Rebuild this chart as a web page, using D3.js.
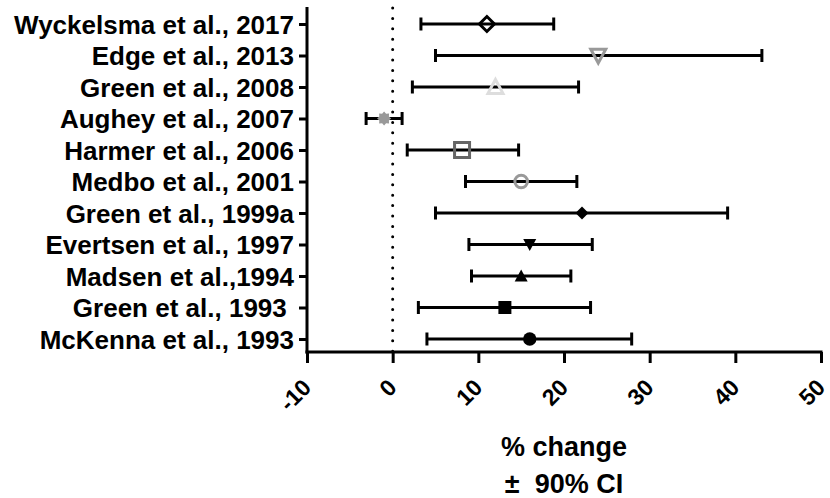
<!DOCTYPE html>
<html lang="en">

<head>
    <meta charset="UTF-8">
    <title>forest plot</title>
    <script src="https://d3js.org/d3.v7.min.js"></script>
    <style>
        body { margin: 0; background: #fff; }
        svg text { font-family: "Liberation Sans", Arial, sans-serif; font-weight: bold; }
    </style>
</head>

<body>
    <svg id="forest" width="830" height="498"></svg>

    <script>
        // studies, top to bottom
        const studies = ["Wyckelsma et al., 2017", "Edge et al., 2013", "Green et al., 2008", "Aughey et al., 2007",
            "Harmer et al., 2006", "Medbo et al., 2001", "Green et al., 1999a", "Evertsen et al., 1997",
            "Madsen et al.,1994", "Green et al., 1993 ", "McKenna et al., 1993"];
        const means = [11, 24, 12, -1, 8.1, 15, 22.1, 16, 15, 13.1, 16];
        const lower = [3.3, 5.0, 2.3, -3.1, 1.7, 8.5, 5.0, 8.9, 9.2, 3.0, 4.0];
        const upper = [18.8, 43.1, 21.7, 1.1, 14.7, 21.5, 39.1, 23.3, 20.8, 23.1, 27.9];
        const shapes = ["diamond", "triDown", "triUp", "star", "square", "circle", "diamond", "triDown", "triUp", "square", "circle"];
        const filled = [false, false, false, true, false, false, true, true, true, true, true];
        const colors = ["#000", "#999", "#ddd", "#999", "#666", "#999", "#000", "#000", "#000", "#000", "#000"];
        const xTicks = [-10, 0, 10, 20, 30, 40, 50];
        const xTickLabels = ["-10", "0", "10", "20", "30", "40", "50"];

        const svg = d3.select("#forest");

        const x = d3.scaleLinear().domain([-10, 50]).range([307, 821]);
        const y = d3.scalePoint().domain(studies).range([24, 339]);
        const axisY = 352;

        // marker outlines as point lists around (0,0)
        function shapePoints(type, filledShape) {
            const r = filledShape ? 6.5 : 7.5;
            if (type === "diamond") return [[0, -r], [r, 0], [0, r], [-r, 0]];
            if (type === "square") return [[-r, -r], [r, -r], [r, r], [-r, r]];
            if (type === "triUp") return [[0, -r], [r, r * 0.85], [-r, r * 0.85]];
            if (type === "triDown") return [[0, r], [r, -r * 0.85], [-r, -r * 0.85]];
            if (type === "star") {
                const pts = [];
                for (let i = 0; i < 16; i++) {
                    const a = i * Math.PI / 8;
                    const rr = i % 2 === 0 ? 7 : 5.2;
                    pts.push([rr * Math.cos(a), rr * Math.sin(a)]);
                }
                return pts;
            }
            return null;
        }
        const outline = d3.line().curve(d3.curveLinearClosed);

        // zero reference line
        svg.append("line")
            .attr("x1", x(0)).attr("x2", x(0))
            .attr("y1", 8).attr("y2", axisY)
            .attr("stroke", "#000")
            .attr("stroke-width", 3)
            .attr("stroke-linecap", "round")
            .attr("stroke-dasharray", "0,10.4");

        // y axis
        const yAxis = svg.append("g")
            .attr("transform", `translate(${x(-10)},0)`)
            .call(d3.axisLeft(y).tickSize(8).tickPadding(5));
        yAxis.select(".domain").remove();
        yAxis.selectAll(".tick line").attr("stroke", "#000").attr("stroke-width", 3);
        yAxis.selectAll(".tick text")
            .attr("fill", "#000")
            .style("font-size", "26px")
            .style("white-space", "pre")
            .attr("dy", "0.36em");
        svg.append("line")
            .attr("x1", x(-10)).attr("x2", x(-10))
            .attr("y1", 7).attr("y2", axisY + 1.5)
            .attr("stroke", "#000").attr("stroke-width", 3);

        // x axis
        const xAxis = svg.append("g")
            .attr("transform", `translate(0,${axisY})`)
            .call(d3.axisBottom(x).tickValues(xTicks).tickSize(11)
                .tickFormat((d, i) => xTickLabels[i]));
        xAxis.select(".domain").remove();
        xAxis.selectAll(".tick line").attr("stroke", "#000").attr("stroke-width", 3);
        xAxis.selectAll(".tick text")
            .attr("fill", "#000")
            .style("font-size", "23px")
            .attr("text-anchor", "end")
            .attr("y", 0).attr("dy", 0)
            .attr("transform", "translate(5,37) rotate(-45)");
        svg.append("line")
            .attr("x1", x(-10) - 1.5).attr("x2", x(50) + 1.5)
            .attr("y1", axisY).attr("y2", axisY)
            .attr("stroke", "#000").attr("stroke-width", 3);

        // error bars
        const rows = svg.append("g").selectAll("g").data(studies)
            .join("g")
            .attr("transform", d => `translate(0,${y(d)})`);

        rows.append("line")
            .attr("x1", (d, i) => x(lower[i])).attr("x2", (d, i) => x(upper[i]))
            .attr("stroke", "#000").attr("stroke-width", 3);
        rows.append("line")
            .attr("x1", (d, i) => x(lower[i])).attr("x2", (d, i) => x(lower[i]))
            .attr("y1", -6.5).attr("y2", 6.5)
            .attr("stroke", "#000").attr("stroke-width", 3);
        rows.append("line")
            .attr("x1", (d, i) => x(upper[i])).attr("x2", (d, i) => x(upper[i]))
            .attr("y1", -6.5).attr("y2", 6.5)
            .attr("stroke", "#000").attr("stroke-width", 3);

        // point estimates
        rows.each(function (d, i) {
            const g = d3.select(this);
            const cx = x(means[i]);
            let mark;
            if (shapes[i] === "circle") {
                mark = g.append("circle").attr("cx", cx).attr("r", filled[i] ? 6.7 : 6.3);
            } else {
                mark = g.append("path")
                    .attr("d", outline(shapePoints(shapes[i], filled[i])))
                    .attr("transform", `translate(${cx},0)`);
            }
            if (filled[i]) {
                mark.attr("fill", colors[i]);
            } else {
                mark.attr("fill", "none")
                    .attr("stroke", colors[i])
                    .attr("stroke-width", 3);
            }
        });

        // axis title
        svg.append("text")
            .attr("x", (x(-10) + x(50)) / 2)
            .attr("y", 456)
            .attr("text-anchor", "middle")
            .style("font-size", "27px")
            .text("% change");
        svg.append("text")
            .attr("x", (x(-10) + x(50)) / 2)
            .attr("y", 493)
            .attr("text-anchor", "middle")
            .style("font-size", "27px")
            .style("white-space", "pre")
            .text("±  90% CI");
    </script>

</body>

</html>
